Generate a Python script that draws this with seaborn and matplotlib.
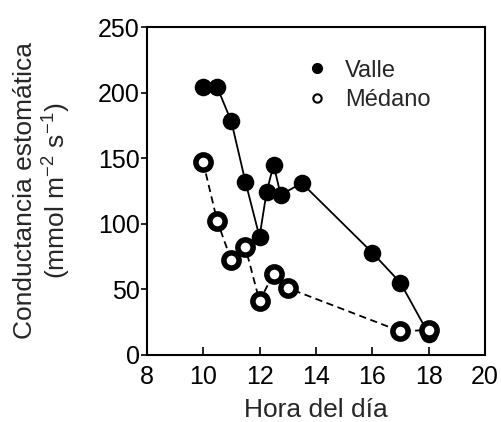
import numpy as np
import pandas as pd
import matplotlib
matplotlib.use('Agg')
import matplotlib.pyplot as plt
import seaborn as sns

# datos
hora_valle = [10.0, 10.5, 11.0, 11.5, 12.0, 12.25, 12.5, 12.75, 13.5, 16.0, 17.0, 18.0]
cond_valle = [204, 204, 178, 132, 90, 124, 145, 122, 131, 78, 55, 16]
hora_medano = [10.0, 10.5, 11.0, 11.5, 12.0, 12.5, 13.0, 17.0, 18.0]
cond_medano = [147, 102, 72, 82, 41, 62, 51, 18, 19]

sns.set_theme(style='ticks')
plt.rcParams['font.family'] = ['Liberation Sans', 'DejaVu Sans']
plt.rcParams['mathtext.fontset'] = 'custom'
plt.rcParams['mathtext.rm'] = 'Liberation Sans'
plt.rcParams['mathtext.it'] = 'Liberation Sans'

df_v = pd.DataFrame({'hora': hora_valle, 'cond': cond_valle})
df_m = pd.DataFrame({'hora': hora_medano, 'cond': cond_medano})

fig = plt.figure(figsize=(5.01, 4.22), dpi=100)
ax = fig.add_axes([0.293, 0.159, 0.675, 0.777])

sns.lineplot(data=df_v, x='hora', y='cond', ax=ax, color='black', linewidth=1.3,
             sort=False, estimator=None)
sns.lineplot(data=df_m, x='hora', y='cond', ax=ax, color='black', linewidth=1.3,
             sort=False, estimator=None)
ax.lines[-1].set_linestyle((0, (4, 2.5)))
sns.scatterplot(data=df_v, x='hora', y='cond', ax=ax, color='black', s=160,
                edgecolor='black', linewidth=0, zorder=3)
sns.scatterplot(data=df_m, x='hora', y='cond', ax=ax, color='white', s=120,
                edgecolor='black', linewidth=4, zorder=4)

# leyenda
h1 = plt.Line2D([], [], marker='o', color='black', linestyle='none', markersize=7)
h2 = plt.Line2D([], [], marker='o', markerfacecolor='white', markeredgecolor='black',
                markeredgewidth=1.5, linestyle='none', markersize=6)
ax.legend([h1, h2], ['Valle', 'Médano'], loc='upper left', bbox_to_anchor=(0.405, 0.965),
          frameon=False, fontsize=17, handletextpad=0.7, labelspacing=0.3,
          handlelength=1.0)

ax.set_xlim(8, 20)
ax.set_ylim(0, 250)
ax.set_xticks([8, 10, 12, 14, 16, 18, 20])
ax.set_yticks([0, 50, 100, 150, 200, 250])
ax.tick_params(axis='x', direction='in', length=6, width=1.2, labelsize=18, pad=7, colors='black')
ax.tick_params(axis='y', direction='out', length=4, width=1.2, labelsize=18, pad=1, colors='black')
for s in ax.spines.values():
    s.set_linewidth(1.5)
    s.set_color('black')

ax.set_xlabel('Hora del día', fontsize=19, labelpad=7)
ax.set_ylabel('Conductancia estomática\n(mmol m$^{-2}$ s$^{-1}$)', fontsize=19, labelpad=18,
              linespacing=1.15)

fig.savefig('out.png', dpi=100)
